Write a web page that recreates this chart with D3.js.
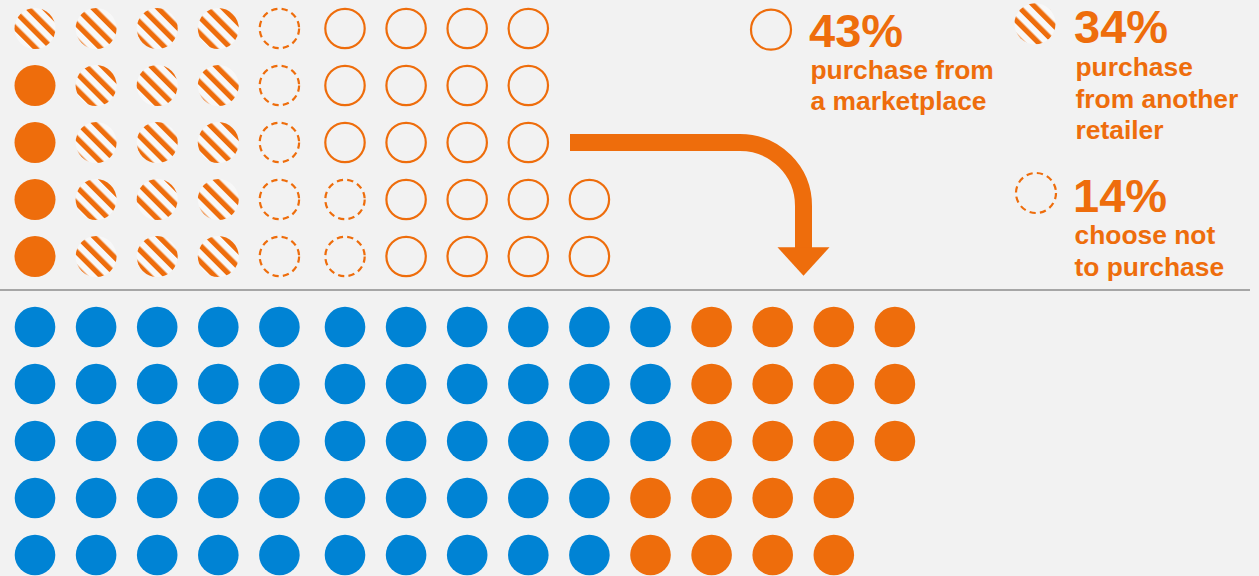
<!DOCTYPE html>
<html>
<head>
<meta charset="utf-8">
<script src="https://cdn.jsdelivr.net/npm/d3@7"></script>
<style>
  html, body { margin: 0; padding: 0; background: #f2f2f2; }
  svg { display: block; }
  text { font-family: "Liberation Sans", Arial, sans-serif; font-weight: bold; }
</style>
</head>
<body>
<svg id="chart" width="1259" height="576"></svg>
<script>
// Shopper groups in the upper grid, counted per row (left to right)
const topGroups = ["brand", "retailer", "declined", "marketplace"];
const topRowCounts = [
  [0, 4, 1, 4],
  [1, 3, 1, 4],
  [1, 3, 1, 4],
  [1, 3, 2, 4],
  [1, 3, 2, 4]
];

// Lower grid: shoppers who stay vs. shoppers who move on, per row
const bottomGroups = ["stay", "leave"];
const bottomRowCounts = [
  [11, 4],
  [11, 4],
  [11, 4],
  [10, 4],
  [10, 4]
];

// Legend entries
const legendGroups = ["marketplace", "retailer", "declined"];
const legendPercents = [43, 34, 14];
const legendLabels = [
  ["purchase from", "a marketplace"],
  ["purchase", "from another", "retailer"],
  ["choose not", "to purchase"]
];

const ORANGE = "#ee6d0c";
const BLUE = "#0083d4";
const R = 20;

const svg = d3.select("#chart");

// diagonal stripe fill
const defs = svg.append("defs");
const pat = defs.append("pattern")
  .attr("id", "stripes")
  .attr("patternUnits", "userSpaceOnUse")
  .attr("width", 11.5).attr("height", 11.5)
  .attr("patternTransform", "rotate(-45)");
pat.append("rect").attr("x", 0).attr("y", 0).attr("width", 11.5).attr("height", 11.5).attr("fill", "#f8f8f8");
pat.append("rect").attr("x", 0).attr("y", 0).attr("width", 5.2).attr("height", 11.5).attr("fill", ORANGE);

// column / row scales
const xCol = d3.scaleLinear().domain([0, 1]).range([35, 96.1]);
const colX = i => xCol(i) + (i >= 5 ? 4.5 : 0);
const yTop = d3.scaleLinear().domain([0, 4]).range([28.5, 256.5]);
const yBottom = d3.scaleLinear().domain([0, 4]).range([327, 555]);

// expand row counts into individual dots
function expand(rowCounts, groups) {
  const dots = [];
  rowCounts.forEach((counts, r) => {
    let c = 0;
    counts.forEach((n, g) => {
      for (let k = 0; k < n; k++) dots.push({ row: r, col: c++, group: groups[g] });
    });
  });
  return dots;
}

function styleDot(sel) {
  sel.each(function (d) {
    const s = d3.select(this);
    const g = d.group;
    if (g === "brand" || g === "leave") {
      s.attr("fill", ORANGE);
    } else if (g === "stay") {
      s.attr("fill", BLUE);
    } else if (g === "retailer") {
      s.attr("fill", "url(#stripes)");
    } else if (g === "declined") {
      s.attr("fill", "none").attr("stroke", ORANGE).attr("stroke-width", 2.2)
        .attr("stroke-dasharray", "6.2,4.3");
    } else if (g === "marketplace") {
      s.attr("fill", "none").attr("stroke", ORANGE).attr("stroke-width", 2.2);
    }
  });
}

const topDots = expand(topRowCounts, topGroups);
svg.append("g").selectAll("circle").data(topDots).join("circle")
  .attr("cx", d => colX(d.col))
  .attr("cy", d => yTop(d.row))
  .attr("r", d => (d.group === "marketplace" || d.group === "declined") ? R - 0.3 : R + 0.5)
  .call(styleDot);

const bottomDots = expand(bottomRowCounts, bottomGroups);
svg.append("g").selectAll("circle").data(bottomDots).join("circle")
  .attr("cx", d => colX(d.col))
  .attr("cy", d => yBottom(d.row))
  .attr("r", R + 0.3)
  .call(styleDot);

// divider
svg.append("line")
  .attr("x1", 0).attr("x2", 1250)
  .attr("y1", 290).attr("y2", 290)
  .attr("stroke", "#a6a6a6").attr("stroke-width", 2);

// curved arrow from the upper grid down to the lower grid
const arrowPath = d3.path();
arrowPath.moveTo(570, 142.5);
arrowPath.lineTo(740, 142.5);
arrowPath.arc(740, 206, 63.5, -Math.PI / 2, 0);
arrowPath.lineTo(803.5, 248);
svg.append("path")
  .attr("d", arrowPath.toString())
  .attr("fill", "none").attr("stroke", ORANGE).attr("stroke-width", 17);
svg.append("path")
  .attr("d", d3.line()([[777.5, 247.3], [829.5, 247.3], [803.5, 275.7]]) + "Z")
  .attr("fill", ORANGE);

// legend
const legendPos = [
  { cx: 771, cy: 29.7, tx: 809, numY: 46.7, lineY: 78.5 },
  { cx: 1035, cy: 23.7, tx: 1074, numY: 42.7, lineY: 76 },
  { cx: 1036, cy: 193, tx: 1073, numY: 211.7, lineY: 244.3 }
];
const legend = svg.append("g");
legendGroups.forEach((g, i) => {
  const p = legendPos[i];
  legend.append("circle")
    .datum({ group: g })
    .attr("cx", p.cx).attr("cy", p.cy)
    .attr("r", g === "retailer" ? R + 0.5 : R)
    .call(styleDot);
  legend.append("text")
    .attr("x", p.tx).attr("y", p.numY)
    .attr("fill", ORANGE)
    .attr("font-size", 47)
    .text(legendPercents[i] + "%");
  legendLabels[i].forEach((line, j) => {
    legend.append("text")
      .attr("x", p.tx + 1.5).attr("y", p.lineY + j * 31.7)
      .attr("fill", ORANGE)
      .attr("font-size", 26.4)
      .text(line);
  });
});
</script>
</body>
</html>
